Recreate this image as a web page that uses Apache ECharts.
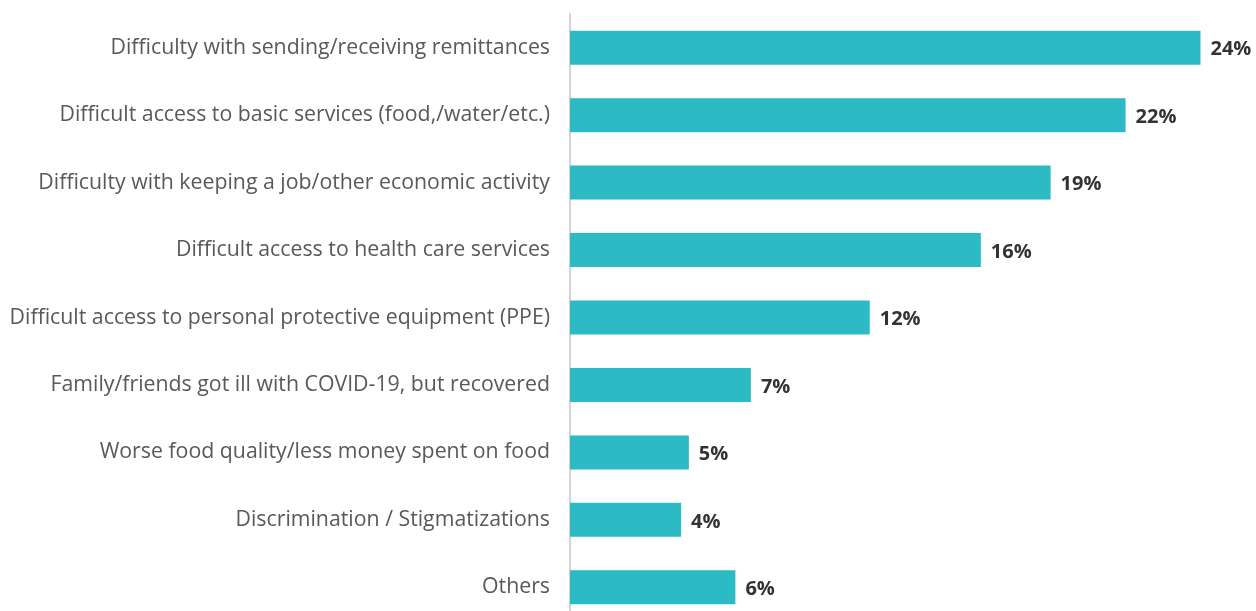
<!DOCTYPE html>
<html>
<head>
<meta charset="utf-8">
<script src="https://cdn.jsdelivr.net/npm/echarts@6/dist/echarts.min.js"></script>
<style>
  html, body { margin: 0; padding: 0; background: #fff; }
  #chart { width: 1256px; height: 611px; }
</style>
</head>
<body>
<div id="chart"></div>
<script>
// categories, top to bottom
const categories = [
  'Difficulty with sending/receiving remittances',
  'Difficult access to basic services (food,/water/etc.)',
  'Difficulty with keeping a job/other economic activity',
  'Difficult access to health care services',
  'Difficult access to personal protective equipment (PPE)',
  'Family/friends got ill with COVID-19, but recovered',
  'Worse food quality/less money spent on food',
  'Discrimination / Stigmatizations',
  'Others'
];

// share of respondents, %
const shares = [24.4, 21.5, 18.6, 15.9, 11.6, 7.0, 4.6, 4.3, 6.4];

const chart = echarts.init(document.getElementById('chart'));

chart.setOption({
  animation: false,
  // plot runs past the bottom edge, as in the source crop
  grid: { left: 570, right: 40, top: 14, height: 607, outerBoundsMode: 'none' },
  xAxis: {
    type: 'value',
    min: 0,
    max: 25,
    show: false
  },
  yAxis: {
    type: 'category',
    data: categories,
    inverse: true,
    axisLine: { show: true, lineStyle: { color: '#d4d4d4', width: 2 } },
    axisTick: { show: false },
    axisLabel: {
      margin: 20,
      fontFamily: 'Open Sans',
      fontSize: 21.3,
      color: '#595959'
    }
  },
  series: [{
    type: 'bar',
    data: shares,
    barWidth: 34,
    itemStyle: { color: '#2cbac5' },
    label: {
      show: true,
      position: 'right',
      distance: 10,
      offset: [0, 2],
      fontFamily: 'Open Sans',
      fontWeight: 'bold',
      fontSize: 20,
      color: '#333333',
      formatter: (p) => Math.round(p.value) + '%'
    }
  }]
});
</script>
</body>
</html>
